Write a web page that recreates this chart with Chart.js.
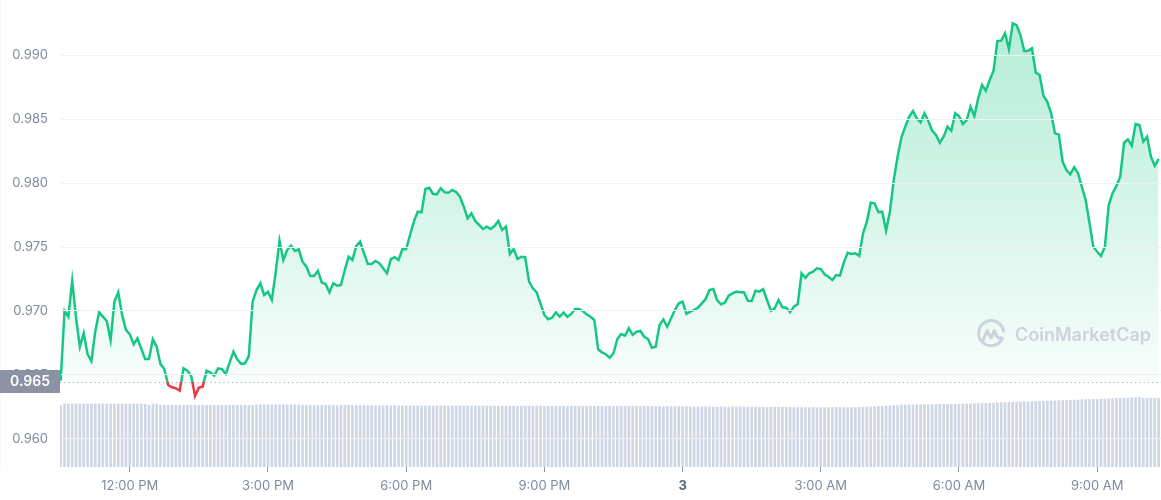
<!DOCTYPE html>
<html>
<head>
<meta charset="utf-8">
<script src="https://cdn.jsdelivr.net/npm/chart.js@4.4.1/dist/chart.umd.min.js"></script>
<style>
  html, body { margin: 0; padding: 0; background: #ffffff; }
  #wrap { position: relative; width: 1161px; height: 500px; }
  #wm { position: absolute; left: 976px; top: 319px; height: 30px; display: flex; align-items: center; gap: 9px;
        color: #cdd2dd; font: 600 18px Inter, "Noto Sans", sans-serif; pointer-events: none; }
</style>
</head>
<body>
<div id="wrap">
  <canvas id="c" width="1161" height="500"></canvas>
  <div id="wm">
    <svg width="30" height="30" viewBox="0 0 30 30">
      <path d="M26.5 19.5 A12.5 12.5 0 1 1 27.5 12" fill="none" stroke="#cdd2dd" stroke-width="3" stroke-linecap="round"/>
      <path d="M7.5 20.5 L11 11.5 L15 19 L18.5 11.5 L21 17.5 Q22.5 20 25 18.5" fill="none" stroke="#cdd2dd" stroke-width="3" stroke-linejoin="round" stroke-linecap="round"/>
    </svg>
    <span>CoinMarketCap</span>
  </div>
</div>
<script>
// ---- data (5-minute samples starting 10:30 AM, minutes since midnight of day 1) ----
const startMinute = 630;
const stepMinutes = 5;

const prices = [
  0.96455, 0.97000, 0.96956, 0.97237, 0.96945, 0.96721, 0.96826, 0.96664, 0.96609, 0.96838, 0.96990, 0.96956,
  0.96922, 0.96773, 0.97073, 0.97146, 0.96969, 0.96852, 0.96818, 0.96740, 0.96787, 0.96705, 0.96625, 0.96625,
  0.96779, 0.96721, 0.96584, 0.96547, 0.96422, 0.96404, 0.96396, 0.96377, 0.96552, 0.96534, 0.96492, 0.96336,
  0.96401, 0.96409, 0.96534, 0.96518, 0.96495, 0.96552, 0.96545, 0.96508, 0.96596, 0.96682, 0.96623, 0.96586,
  0.96591, 0.96648, 0.97073, 0.97164, 0.97216, 0.97125, 0.97151, 0.97086, 0.97300, 0.97549, 0.97398, 0.97477,
  0.97510, 0.97469, 0.97482, 0.97385, 0.97346, 0.97273, 0.97273, 0.97313, 0.97224, 0.97211, 0.97146, 0.97216,
  0.97198, 0.97203, 0.97320, 0.97424, 0.97398, 0.97508, 0.97541, 0.97451, 0.97367, 0.97367, 0.97391, 0.97373,
  0.97334, 0.97295, 0.97406, 0.97420, 0.97398, 0.97482, 0.97484, 0.97594, 0.97698, 0.97776, 0.97771, 0.97953,
  0.97963, 0.97914, 0.97912, 0.97959, 0.97927, 0.97924, 0.97945, 0.97930, 0.97893, 0.97815, 0.97724, 0.97763,
  0.97703, 0.97672, 0.97641, 0.97659, 0.97641, 0.97664, 0.97703, 0.97633, 0.97659, 0.97445, 0.97484, 0.97406,
  0.97424, 0.97420, 0.97229, 0.97177, 0.97146, 0.97055, 0.96969, 0.96935, 0.96948, 0.96990, 0.96955, 0.96987,
  0.96955, 0.96977, 0.97016, 0.97016, 0.97000, 0.96974, 0.96955, 0.96930, 0.96701, 0.96677, 0.96662, 0.96635,
  0.96670, 0.96781, 0.96820, 0.96807, 0.96865, 0.96813, 0.96838, 0.96844, 0.96799, 0.96781, 0.96713, 0.96721,
  0.96891, 0.96935, 0.96877, 0.96943, 0.97008, 0.97060, 0.97073, 0.96977, 0.96995, 0.97008, 0.97026, 0.97060,
  0.97094, 0.97164, 0.97172, 0.97086, 0.97052, 0.97065, 0.97120, 0.97138, 0.97151, 0.97146, 0.97146, 0.97080,
  0.97078, 0.97159, 0.97151, 0.97170, 0.97086, 0.97002, 0.97021, 0.97086, 0.97029, 0.97026, 0.96990, 0.97034,
  0.97055, 0.97295, 0.97260, 0.97295, 0.97307, 0.97334, 0.97328, 0.97287, 0.97268, 0.97242, 0.97281, 0.97276,
  0.97380, 0.97455, 0.97445, 0.97451, 0.97430, 0.97607, 0.97698, 0.97846, 0.97841, 0.97773, 0.97776, 0.97627,
  0.97776, 0.98023, 0.98205, 0.98357, 0.98440, 0.98518, 0.98563, 0.98505, 0.98474, 0.98545, 0.98487, 0.98409,
  0.98375, 0.98315, 0.98362, 0.98440, 0.98409, 0.98545, 0.98523, 0.98461, 0.98492, 0.98596, 0.98523, 0.98662,
  0.98766, 0.98721, 0.98805, 0.98877, 0.99109, 0.99112, 0.99170, 0.99045, 0.99248, 0.99234, 0.99156, 0.99031,
  0.99034, 0.99052, 0.98862, 0.98844, 0.98682, 0.98635, 0.98545, 0.98388, 0.98380, 0.98166, 0.98102, 0.98068,
  0.98123, 0.98076, 0.97971, 0.97867, 0.97685, 0.97502, 0.97463, 0.97430, 0.97502, 0.97828, 0.97920, 0.97977,
  0.98049, 0.98315, 0.98341, 0.98291, 0.98461, 0.98453, 0.98323, 0.98362, 0.98205, 0.98135, 0.98188
];

// 24h volume (billions USD, approximate)
const volumes = [
  6.15, 6.30, 6.30, 6.31, 6.31, 6.30, 6.31, 6.31, 6.30, 6.30, 6.31, 6.31,
  6.30, 6.30, 6.31, 6.30, 6.30, 6.31, 6.30, 6.31, 6.30, 6.30, 6.29, 6.18,
  6.30, 6.30, 6.18, 6.17, 6.17, 6.18, 6.17, 6.17, 6.17, 6.18, 6.17, 6.17,
  6.17, 6.18, 6.17, 6.17, 6.17, 6.17, 6.18, 6.17, 6.17, 6.17, 6.17, 6.18,
  6.17, 6.17, 6.17, 6.22, 6.22, 6.23, 6.22, 6.22, 6.23, 6.22, 6.22, 6.22,
  6.23, 6.22, 6.22, 6.15, 6.15, 6.16, 6.15, 6.15, 6.16, 6.17, 6.16, 6.15,
  6.15, 6.15, 6.16, 6.15, 6.15, 6.14, 6.14, 6.15, 6.14, 6.14, 6.14, 6.13,
  6.13, 6.13, 6.12, 6.12, 6.12, 6.11, 6.11, 6.11, 6.10, 6.10, 6.11, 6.10,
  6.10, 6.10, 6.10, 6.11, 6.10, 6.10, 6.10, 6.10, 6.11, 6.10, 6.10, 6.10,
  6.10, 6.10, 6.10, 6.10, 6.10, 6.09, 6.09, 6.10, 6.09, 6.09, 6.09, 6.09,
  6.09, 6.09, 6.09, 6.09, 6.09, 6.09, 6.08, 6.08, 6.08, 6.09, 6.08, 6.08,
  6.08, 6.08, 6.08, 6.08, 6.08, 6.08, 6.08, 6.08, 6.08, 6.07, 6.07, 6.07,
  6.07, 6.07, 6.07, 6.07, 6.07, 6.06, 6.06, 6.06, 6.06, 6.06, 6.06, 6.05,
  6.05, 6.05, 6.05, 6.04, 6.04, 6.04, 6.04, 6.03, 6.03, 6.03, 6.03, 6.02,
  6.02, 5.99, 5.99, 6.00, 6.01, 6.02, 6.00, 6.01, 6.00, 6.00, 5.99, 5.99,
  5.99, 5.98, 5.99, 5.98, 5.98, 5.97, 5.98, 5.97, 5.97, 5.96, 5.96, 5.96,
  5.95, 5.95, 5.95, 5.94, 5.94, 5.94, 5.93, 5.94, 5.94, 5.95, 5.95, 5.96,
  5.93, 5.93, 5.94, 5.95, 5.96, 5.98, 6.00, 6.02, 6.04, 6.06, 6.08, 6.10,
  6.12, 6.14, 6.17, 6.20, 6.20, 6.21, 6.22, 6.22, 6.23, 6.24, 6.23, 6.24,
  6.24, 6.25, 6.26, 6.27, 6.27, 6.27, 6.28, 6.30, 6.31, 6.31, 6.33, 6.35,
  6.36, 6.37, 6.38, 6.40, 6.42, 6.43, 6.45, 6.46, 6.48, 6.49, 6.50, 6.52,
  6.53, 6.54, 6.55, 6.56, 6.57, 6.58, 6.60, 6.62, 6.63, 6.65, 6.66, 6.67,
  6.68, 6.70, 6.72, 6.75, 6.76, 6.77, 6.78, 6.80, 6.81, 6.82, 6.84, 6.86,
  6.87, 6.88, 6.90, 6.91, 6.94, 6.97, 6.88, 6.88, 6.88, 6.88, 6.87
];

const yTicks = [0.960, 0.965, 0.970, 0.975, 0.980, 0.985, 0.990];
const xTicks = [720, 900, 1080, 1260, 1440, 1620, 1800, 1980];
const xTickLabels = ['12:00 PM', '3:00 PM', '6:00 PM', '9:00 PM', '3', '3:00 AM', '6:00 AM', '9:00 AM'];
const dayTick = 1440;
const baseValue = 0.96448;
const baseLabel = '0.965';
const yRange = [0.95781, 0.99430];
const xRange = [629.1, 2063.1];
const volumeMax = 46.7;

// ---- styling ----
const GREEN = '#16c784';
const RED = '#ea3943';
const FONT = 'Inter, "Noto Sans", sans-serif';

const times = prices.map((_, i) => startMinute + i * stepMinutes);
const pricePoints = prices.map((p, i) => ({ x: times[i], y: p }));
const volumePoints = volumes.map((v, i) => ({ x: startMinute + i * stepMinutes, y: v }));

function baseStop(chart) {
  const a = chart.chartArea;
  const yb = chart.scales.y.getPixelForValue(baseValue);
  return Math.min(1, Math.max(0, (yb - a.top) / (a.bottom - a.top)));
}

function lineColor(ctx) {
  const chart = ctx.chart;
  if (!chart.chartArea) return GREEN;
  const a = chart.chartArea;
  const s = baseStop(chart);
  const g = chart.ctx.createLinearGradient(0, a.top, 0, a.bottom);
  g.addColorStop(0, GREEN);
  g.addColorStop(s, GREEN);
  g.addColorStop(s, RED);
  g.addColorStop(1, RED);
  return g;
}

function fillColor(ctx) {
  const chart = ctx.chart;
  if (!chart.chartArea) return 'rgba(22,199,132,0.1)';
  const a = chart.chartArea;
  const s = baseStop(chart);
  const g = chart.ctx.createLinearGradient(0, a.top, 0, a.bottom);
  g.addColorStop(0, 'rgba(22,199,132,0.34)');
  g.addColorStop(s, 'rgba(22,199,132,0.03)');
  g.addColorStop(s, 'rgba(234,57,67,0.04)');
  g.addColorStop(1, 'rgba(234,57,67,0.04)');
  return g;
}

const baselinePlugin = {
  id: 'baseline',
  beforeDatasetsDraw(chart) {
    const { ctx, chartArea, scales } = chart;
    const py = Math.round(scales.y.getPixelForValue(baseValue)) + 0.5;
    ctx.save();
    ctx.setLineDash([1.2, 3.1]);
    ctx.strokeStyle = '#a3aabb';
    ctx.lineWidth = 1;
    ctx.beginPath();
    ctx.moveTo(chartArea.left, py);
    ctx.lineTo(chartArea.right, py);
    ctx.stroke();
    ctx.restore();
  },
  afterDraw(chart) {
    const { ctx, scales } = chart;
    const py = scales.y.getPixelForValue(baseValue);
    ctx.save();
    ctx.fillStyle = '#8b92a4';
    ctx.fillRect(0, Math.round(py - 11.5), 60, 23);
    ctx.fillStyle = '#ffffff';
    ctx.font = '600 14px ' + FONT;
    ctx.textAlign = 'center';
    ctx.textBaseline = 'middle';
    ctx.fillText(baseLabel, 30, py + 0.5);
    ctx.restore();
  }
};

new Chart(document.getElementById('c'), {
  data: {
    datasets: [
      {
        type: 'line',
        label: 'Price',
        data: pricePoints,
        yAxisID: 'y',
        order: 0,
        borderColor: lineColor,
        backgroundColor: fillColor,
        borderWidth: 2.5,
        pointRadius: 0,
        tension: 0,
        fill: { value: baseValue }
      },
      {
        type: 'bar',
        label: 'Volume',
        data: volumePoints,
        yAxisID: 'v',
        order: 1,
        backgroundColor: '#cfd6e4',
        barThickness: 2,
        borderWidth: 0
      }
    ]
  },
  options: {
    responsive: false,
    animation: false,
    events: [],
    layout: { padding: 0 },
    plugins: { legend: { display: false }, tooltip: { enabled: false } },
    scales: {
      x: {
        type: 'linear',
        offset: false,
        min: xRange[0],
        max: xRange[1],
        afterBuildTicks: s => { s.ticks = xTicks.map(v => ({ value: v })); },
        afterFit: s => { s.height = 33; s.paddingLeft = 0; s.paddingRight = 0; },
        ticks: {
          autoSkip: false,
          maxRotation: 0,
          padding: 6,
          callback: v => xTickLabels[xTicks.indexOf(v)],
          color: ctx => (ctx.tick && ctx.tick.value === dayTick) ? '#58667e' : '#808a9d',
          font: ctx => (ctx.tick && ctx.tick.value === dayTick)
            ? { family: FONT, size: 13, weight: '700' }
            : { family: FONT, size: 13, weight: '400' }
        },
        grid: { offset: false, drawOnChartArea: false, drawTicks: true, tickLength: 5, tickColor: '#8e96a8', tickWidth: 1 },
        border: { display: false }
      },
      y: {
        type: 'linear',
        position: 'left',
        min: yRange[0],
        max: yRange[1],
        afterBuildTicks: s => { s.ticks = yTicks.map(v => ({ value: v })); },
        afterFit: s => { s.width = 60; s.paddingTop = 0; s.paddingBottom = 0; },
        ticks: {
          padding: 12,
          color: '#808a9d',
          font: { family: FONT, size: 13 },
          callback: v => v.toFixed(3)
        },
        grid: { color: '#eff1f4', drawTicks: false, z: 1 },
        border: { display: true, color: '#eff1f4' }
      },
      v: {
        type: 'linear',
        display: false,
        min: 0,
        max: volumeMax
      }
    }
  },
  plugins: [baselinePlugin]
});
</script>
</body>
</html>
